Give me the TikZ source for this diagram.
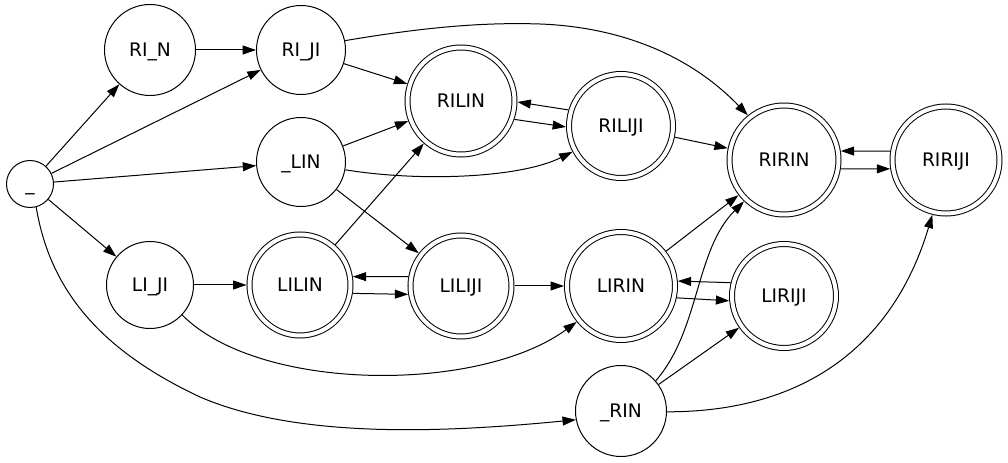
\documentclass[tikz,border=0pt]{standalone}
\usepackage{fontspec}
\setmainfont{DejaVu Sans}
\usetikzlibrary{arrows.meta}
\begin{document}
\begin{tikzpicture}[x=0.75pt,y=-0.75pt,
  every node/.style={font=\fontsize{14}{16}\selectfont, text height=10.2pt, text depth=0pt, inner sep=0pt},
  st/.style={circle,draw,line width=0.75pt,minimum size=#1},
  acc/.style={circle,draw,line width=0.75pt,double,double distance=3pt,minimum size=#1,outer sep=2.25pt},
  edge/.style={line width=0.75pt,-{Triangle[length=10pt,width=6.7pt]}}]
\useasboundingbox (0,0) rectangle (1008,463);

\node[st=35.25pt] (S) at (30,184) {\_};
\node[st=68.25pt] (RIN) at (150,50) {RI\_N};
\node[st=66.75pt] (RIJI) at (301,50) {RI\_JI};
\node[st=66.75pt] (LIN) at (301,162) {\_LIN};
\node[st=65.25pt] (LIJI) at (150,285) {LI\_JI};
\node[st=68.25pt] (RRIN) at (621,411) {\_RIN};
\node[acc=80.25pt] (RILIN) at (461,101) {RILIN};
\node[acc=78pt] (RILIJI) at (621,126) {RILIJI};
\node[acc=81.75pt] (RIRIN) at (784,160) {RIRIN};
\node[acc=80.25pt] (RIRIJI) at (946,160) {RIRIJI};
\node[acc=75.75pt] (LILIN) at (300,285) {LILIN};
\node[acc=75.75pt] (LILIJI) at (461,286) {LILIJI};
\node[acc=81pt] (LIRIN) at (621,286) {LIRIN};
\node[acc=78pt] (LIRIJI) at (784,296) {LIRIJI};

% straight edges
\draw[edge] (S) -- (RIN);
\draw[edge] (S) -- (RIJI);
\draw[edge] (S) -- (LIN);
\draw[edge] (S) -- (LIJI);
\draw[edge] (RIN) -- (RIJI);
\draw[edge] (RIJI) -- (RILIN);
\draw[edge] (LIN) -- (RILIN);
\draw[edge] (LIN) -- (LILIJI);
\draw[edge] (LILIN) -- (RILIN);
\draw[edge] (RILIJI) -- (RIRIN);
\draw[edge] (LIJI) -- (LILIN);
\draw[edge] (LILIJI) -- (LIRIN);
\draw[edge] (LIRIN) -- (RIRIN);
\draw[edge] (RRIN) -- (LIRIJI);

% paired edges
\draw[edge] (RILIJI.163) -- (RILIN.-1);
\draw[edge] (RILIN.-19) -- (RILIJI.181);
\draw[edge] (RIRIJI.171) -- (RIRIN.9);
\draw[edge] (RIRIN.-9) -- (RIRIJI.189);
\draw[edge] (LILIJI.170.4) -- (LILIN.9.6);
\draw[edge] (LILIN.-9.6) -- (LILIJI.189.6);
\draw[edge] (LIRIJI.166.5) -- (LIRIN.5);
\draw[edge] (LIRIN.-12) -- (LIRIJI.185);

% curved edges
\draw[edge] (S.-75) .. controls (50,290) and (100,350) .. (200,397)
  .. controls (300,440) and (450,432) .. (RRIN.-169);
\draw[edge] (LIJI.-43) .. controls (260,393) and (480,393) .. (LIRIN.-141);
\draw[edge] (RIJI.12.5) .. controls (420,28) and (480,22) .. (540,24)
  .. controls (620,27) and (690,55) .. (RIRIN.129);
\draw[edge] (LIN.-10) .. controls (420,182) and (520,178) .. (RILIJI.-152);
\draw[edge] (RRIN.41) .. controls (700,330) and (695,250) .. (RIRIN.-134);
\draw[edge] (RRIN.-1) .. controls (810,412) and (895,340) .. (RIRIJI.-104);
\end{tikzpicture}
\end{document}
